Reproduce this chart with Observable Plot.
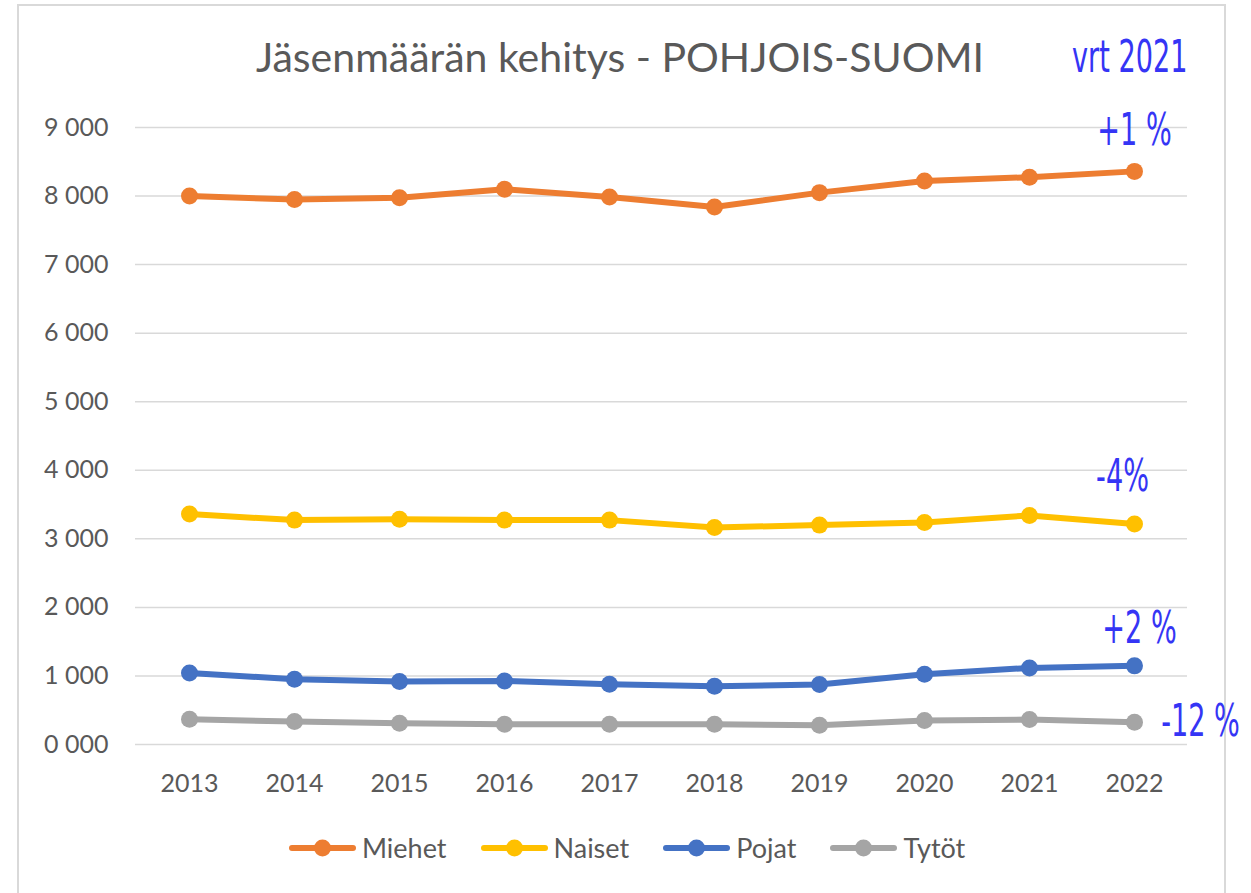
<!DOCTYPE html>
<html>
<head>
<meta charset="utf-8">
<script src="https://cdn.jsdelivr.net/npm/d3@7"></script>
<script src="https://cdn.jsdelivr.net/npm/@observablehq/plot@0.6"></script>
<style>
  html, body { margin: 0; padding: 0; background: #fff; width: 1251px; height: 893px; overflow: hidden; }
  #frame { position: absolute; left: 17px; top: 4px; width: 1205px; height: 900px; border: 2px solid #d9d9d9; border-bottom: none; }
  #title { position: absolute; left: 0; top: 36px; width: 1240px; text-align: center; font-family: Lato, "Open Sans", sans-serif; font-size: 41px; line-height: 1; color: #595959; }
  #chart { position: absolute; left: 0; top: 0; }
  #chart svg { overflow: visible; }
  #legend { position: absolute; left: 288px; top: 833px; display: flex; gap: 33px; font-family: Lato, "Open Sans", sans-serif; font-size: 27px; color: #595959; line-height: 30px; }
  .item { display: flex; align-items: center; }
  .item span { margin-left: 5px; }
</style>
</head>
<body>
<div id="frame"></div>
<div id="title">Jäsenmäärän kehitys - POHJOIS-SUOMI</div>
<div id="chart"></div>
<div id="legend"></div>
<script>
const years = ["2013","2014","2015","2016","2017","2018","2019","2020","2021","2022"];
const seriesNames = ["Miehet","Naiset","Pojat","Tytöt"];
const miehet = [8000, 7950, 7975, 8100, 7985, 7840, 8050, 8220, 8275, 8360];
const naiset = [3361, 3273, 3287, 3273, 3273, 3166, 3200, 3239, 3342, 3215];
const pojat  = [1044, 952, 918, 927, 878, 849, 874, 1025, 1117, 1147];
const tytot  = [369, 335, 310, 296, 296, 296, 281, 350, 364, 325];
const yTicks = [0,1000,2000,3000,4000,5000,6000,7000,8000,9000];
const yTickLabels = ["0 000","1 000","2 000","3 000","4 000","5 000","6 000","7 000","8 000","9 000"];
const changeLabels = ["+1 %","-4%","+2 %","-12 %"];
const compareLabel = "vrt 2021";

const colors = ["#ED7D31","#FFC000","#4472C4","#A5A5A5"];
const seriesValues = [miehet, naiset, pojat, tytot];
const rows = [];
seriesNames.forEach((s, si) => years.forEach((y, i) => rows.push({series: s, year: y, value: seriesValues[si][i]})));
const lastRows = seriesNames.map((s, si) => ({series: s, year: years[years.length-1], value: seriesValues[si][years.length-1], label: changeLabels[si]}));

const annFont = '"Liberation Sans Narrow", "DejaVu Sans Condensed", "Roboto Condensed", sans-serif';
const annColor = "#3535f5";
const offsets = [{dx:0, dy:-41}, {dx:-12, dy:-48}, {dx:5, dy:-37}, {dx:66, dy:-1}];

const plot = Plot.plot({
  width: 1251,
  height: 800,
  marginLeft: 135,
  marginRight: 64,
  marginTop: 127,
  marginBottom: 56,
  style: {fontFamily: 'Lato, "Open Sans", sans-serif', fontSize: "25px", color: "#595959", background: "transparent"},
  x: {type: "point", domain: years, padding: 0.5},
  y: {domain: [0, 9000]},
  color: {domain: seriesNames, range: colors},
  marks: [
    Plot.gridY(yTicks, {stroke: "#d9d9d9", strokeOpacity: 1, strokeWidth: 1.5}),
    Plot.axisY({ticks: yTicks, tickFormat: d => yTickLabels[yTicks.indexOf(d)], tickSize: 0, tickPadding: 27, label: null, fontSize: 25}),
    Plot.axisX({tickSize: 0, tickPadding: 30, label: null, fontSize: 25}),
    Plot.line(rows, {x: "year", y: "value", z: "series", stroke: "series", strokeWidth: 6, strokeLinejoin: "round"}),
    Plot.dot(rows, {x: "year", y: "value", fill: "series", r: 8.5}),
    ...lastRows.map((d, i) => Plot.text([d], {x: "year", y: "value", text: "label", dx: offsets[i].dx, dy: offsets[i].dy, fill: annColor, fontSize: 45, fontFamily: annFont, textAnchor: "middle", lineAnchor: "middle"})),
    Plot.text([compareLabel], {frameAnchor: "top-right", text: d => d, dx: 0, dy: -70, fill: annColor, fontSize: 45, fontFamily: annFont, textAnchor: "end", lineAnchor: "middle"})
  ]
});
document.getElementById("chart").appendChild(plot);

// condense the blue annotation glyphs horizontally
plot.querySelectorAll('g[fill="#3535f5"] text').forEach(t => {
  const tr = t.getAttribute("transform") || "";
  t.setAttribute("transform", tr + " scale(0.67,1)");
});

const legend = document.getElementById("legend");
seriesNames.forEach((s, i) => {
  const item = document.createElement("div");
  item.className = "item";
  item.innerHTML = `<svg width="69" height="20"><line x1="4" y1="10" x2="65" y2="10" stroke="${colors[i]}" stroke-width="6" stroke-linecap="round"/><circle cx="34.5" cy="10" r="8.5" fill="${colors[i]}"/></svg><span>${s}</span>`;
  legend.appendChild(item);
});
</script>
</body>
</html>
